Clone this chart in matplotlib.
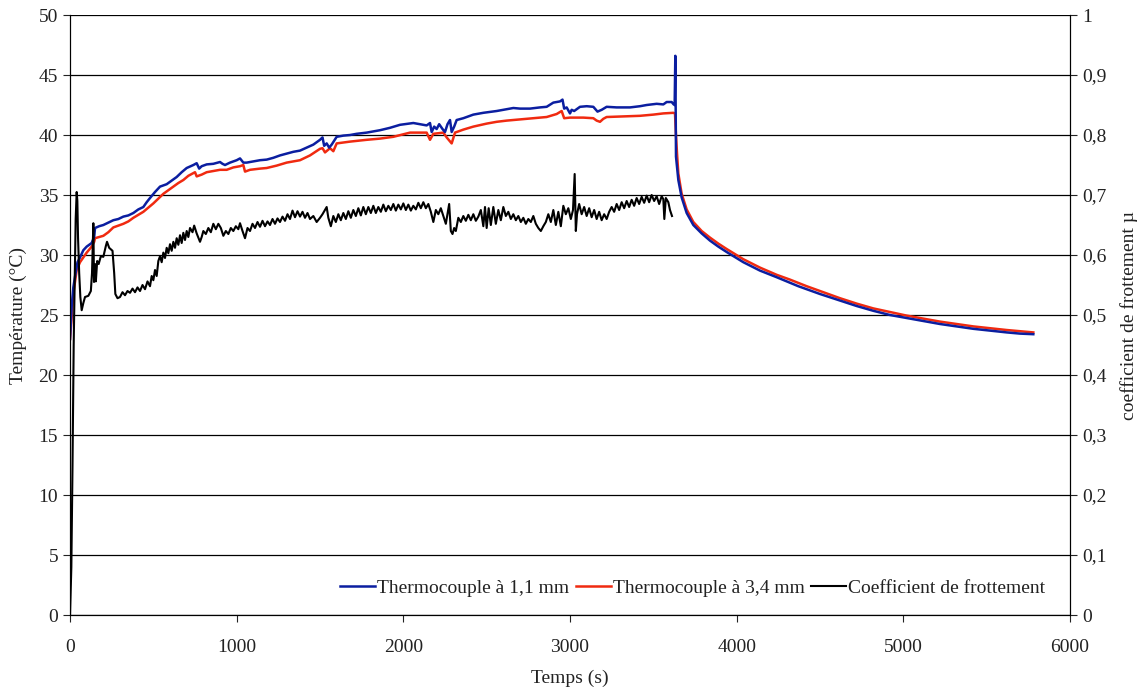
import matplotlib
matplotlib.use("Agg")
import matplotlib.pyplot as plt
from matplotlib.ticker import FuncFormatter, MultipleLocator

# --- data ------------------------------------------------------------------
time_tc1 = [0, 10, 20, 30, 45, 60, 80, 100, 130, 145, 150, 175, 200, 230, 260, 290, 320, 350, 380, 410,
            440, 460, 480, 510, 540, 580, 610, 640, 670, 700, 740, 760, 775, 790, 820, 860, 900, 915, 930,
            960, 1000, 1020, 1040, 1060, 1100, 1140, 1180, 1220, 1260, 1300, 1340, 1380, 1420, 1460, 1500,
            1515, 1525, 1540, 1555, 1570, 1600, 1640, 1680, 1720, 1780, 1820, 1860, 1920, 1980, 2060, 2100,
            2140, 2160, 2170, 2185, 2200, 2215, 2235, 2250, 2265, 2280, 2290, 2305, 2320, 2360, 2420, 2480,
            2560, 2620, 2660, 2700, 2760, 2820, 2860, 2900, 2940, 2955, 2965, 2980, 3000, 3010, 3025, 3060,
            3100, 3140, 3165, 3190, 3220, 3280, 3360, 3420, 3460, 3520, 3560, 3580, 3610, 3622, 3628, 3632,
            3636, 3650, 3670, 3700, 3740, 3790, 3840, 3890, 3940, 4040, 4140, 4240, 4370, 4500, 4620, 4720,
            4820, 4920, 5020, 5120, 5220, 5320, 5420, 5520, 5620, 5700, 5780]
temp_tc1 = [23.0, 25.7, 27.3, 28.2, 29.4, 29.8, 30.4, 30.7, 31.0, 31.5, 32.25, 32.4, 32.5, 32.7, 32.9, 33.0,
            33.2, 33.3, 33.5, 33.8, 34.0, 34.4, 34.75, 35.25, 35.7, 35.9, 36.2, 36.5, 36.9, 37.25, 37.5,
            37.65, 37.2, 37.4, 37.55, 37.6, 37.75, 37.6, 37.5, 37.7, 37.9, 38.05, 37.7, 37.7, 37.8, 37.9,
            37.95, 38.1, 38.3, 38.45, 38.6, 38.7, 38.95, 39.2, 39.6, 39.8, 39.1, 39.3, 38.95, 39.2, 39.85,
            39.95, 40.0, 40.1, 40.2, 40.3, 40.4, 40.6, 40.85, 41.0, 40.9, 40.8, 41.0, 40.25, 40.7, 40.5,
            40.9, 40.5, 40.25, 40.9, 41.25, 40.25, 40.7, 41.25, 41.4, 41.7, 41.85, 42.0, 42.15, 42.25, 42.2,
            42.2, 42.3, 42.35, 42.7, 42.8, 42.95, 42.2, 42.3, 41.8, 42.1, 42.0, 42.35, 42.4, 42.35, 41.95,
            42.1, 42.35, 42.3, 42.3, 42.4, 42.5, 42.6, 42.55, 42.75, 42.75, 42.55, 42.5, 46.6, 38.2, 36.25,
            34.8, 33.5, 32.5, 31.8, 31.2, 30.7, 30.25, 29.4, 28.7, 28.15, 27.4, 26.75, 26.2, 25.75, 25.35,
            25.0, 24.75, 24.5, 24.25, 24.05, 23.85, 23.7, 23.55, 23.45, 23.4]

time_tc2 = [0, 10, 20, 40, 60, 80, 100, 130, 145, 150, 200, 230, 260, 290, 320, 350, 380, 410, 440, 470,
            500, 530, 560, 590, 620, 650, 680, 710, 750, 760, 790, 820, 860, 900, 940, 980, 1020, 1040,
            1050, 1080, 1140, 1180, 1240, 1300, 1380, 1440, 1500, 1515, 1530, 1560, 1580, 1600, 1680, 1780,
            1860, 1940, 2040, 2140, 2160, 2180, 2240, 2260, 2290, 2310, 2360, 2420, 2500, 2560, 2620, 2700,
            2780, 2860, 2920, 2950, 2965, 3000, 3080, 3140, 3160, 3180, 3200, 3220, 3320, 3420, 3500, 3560,
            3620, 3630, 3636, 3642, 3650, 3670, 3700, 3740, 3790, 3840, 3890, 3940, 4040, 4140, 4240, 4320,
            4420, 4520, 4620, 4720, 4820, 4920, 5020, 5120, 5220, 5320, 5420, 5520, 5620, 5700, 5780]
temp_tc2 = [23.0, 24.8, 26.8, 28.75, 29.4, 29.8, 30.2, 30.7, 31.1, 31.4, 31.6, 31.9, 32.3, 32.45, 32.6,
            32.8, 33.1, 33.35, 33.6, 33.95, 34.3, 34.7, 35.1, 35.4, 35.7, 36.0, 36.25, 36.6, 36.9, 36.55,
            36.7, 36.9, 37.0, 37.1, 37.1, 37.3, 37.4, 37.5, 36.95, 37.1, 37.2, 37.25, 37.45, 37.7, 37.9,
            38.3, 38.85, 38.9, 38.55, 38.9, 38.65, 39.3, 39.45, 39.6, 39.7, 39.85, 40.2, 40.2, 39.6, 40.1,
            40.2, 39.8, 39.3, 40.2, 40.45, 40.7, 40.95, 41.1, 41.2, 41.3, 41.4, 41.5, 41.75, 42.0, 41.4,
            41.45, 41.45, 41.4, 41.2, 41.1, 41.35, 41.5, 41.55, 41.6, 41.7, 41.8, 41.85, 41.8, 40.0, 38.5,
            36.8, 35.1, 33.8, 32.75, 32.0, 31.45, 30.95, 30.5, 29.65, 28.95, 28.35, 27.95, 27.4, 26.9,
            26.4, 25.95, 25.55, 25.25, 24.95, 24.7, 24.45, 24.25, 24.05, 23.9, 23.75, 23.65, 23.55]

time_mu = [0, 8, 15, 22, 28, 34, 40, 44, 48, 55, 62, 70, 80, 90, 110, 125, 132, 140, 144, 150, 155, 163,
           172, 185, 200, 215, 222, 235, 255, 265, 272, 285, 300, 315, 330, 345, 360, 375, 390, 405, 420,
           435, 450, 465, 480, 490, 500, 510, 520, 530, 540, 550, 560, 570, 580, 590, 600, 610, 620, 630,
           640, 650, 660, 670, 680, 690, 700, 710, 720, 735, 745, 760, 780, 790, 800, 815, 830, 845, 860,
           875, 890, 905, 920, 935, 950, 965, 980, 995, 1010, 1020, 1035, 1050, 1065, 1080, 1095, 1110,
           1125, 1140, 1155, 1170, 1185, 1200, 1215, 1230, 1245, 1260, 1275, 1290, 1305, 1320, 1335, 1350,
           1365, 1380, 1395, 1410, 1425, 1440, 1460, 1480, 1500, 1515, 1530, 1540, 1550, 1565, 1580, 1595,
           1610, 1625, 1640, 1655, 1670, 1685, 1700, 1715, 1730, 1745, 1760, 1775, 1790, 1805, 1820, 1835,
           1850, 1865, 1880, 1895, 1910, 1925, 1940, 1955, 1970, 1985, 2000, 2015, 2030, 2045, 2060, 2075,
           2090, 2105, 2120, 2135, 2150, 2165, 2180, 2195, 2210, 2225, 2240, 2255, 2265, 2275, 2285, 2295,
           2305, 2315, 2330, 2345, 2360, 2375, 2390, 2405, 2420, 2435, 2450, 2465, 2480, 2490, 2500, 2512,
           2525, 2540, 2555, 2570, 2585, 2600, 2615, 2630, 2645, 2660, 2675, 2690, 2705, 2720, 2735, 2750,
           2765, 2780, 2795, 2810, 2825, 2840, 2855, 2870, 2885, 2900, 2915, 2930, 2945, 2960, 2975, 2990,
           3005, 3018, 3028, 3035, 3042, 3055, 3070, 3085, 3100, 3115, 3130, 3145, 3160, 3175, 3190, 3205,
           3220, 3235, 3250, 3265, 3280, 3295, 3310, 3325, 3340, 3355, 3370, 3385, 3400, 3415, 3430, 3445,
           3460, 3475, 3490, 3505, 3520, 3535, 3550, 3560, 3566, 3575, 3590, 3600, 3612]
mu = [0.0, 0.08, 0.25, 0.45, 0.56, 0.66, 0.705, 0.69, 0.63, 0.57, 0.53, 0.508, 0.52, 0.53, 0.532, 0.54,
      0.57, 0.653, 0.555, 0.585, 0.556, 0.59, 0.585, 0.598, 0.597, 0.615, 0.622, 0.612, 0.607, 0.57, 0.535,
      0.528, 0.53, 0.538, 0.533, 0.54, 0.537, 0.544, 0.538, 0.546, 0.54, 0.55, 0.543, 0.556, 0.548, 0.565,
      0.558, 0.575, 0.565, 0.59, 0.598, 0.588, 0.604, 0.595, 0.612, 0.603, 0.618, 0.607, 0.622, 0.612,
      0.628, 0.617, 0.633, 0.62, 0.637, 0.625, 0.64, 0.63, 0.645, 0.638, 0.649, 0.636, 0.622, 0.63, 0.64,
      0.635, 0.645, 0.638, 0.652, 0.643, 0.652, 0.645, 0.632, 0.64, 0.635, 0.645, 0.64, 0.648, 0.643, 0.653,
      0.64, 0.628, 0.645, 0.64, 0.652, 0.645, 0.655, 0.647, 0.657, 0.648, 0.656, 0.65, 0.66, 0.652, 0.661,
      0.655, 0.664, 0.657, 0.668, 0.66, 0.674, 0.663, 0.673, 0.664, 0.672, 0.662, 0.67, 0.66, 0.665, 0.655,
      0.662, 0.668, 0.675, 0.68, 0.662, 0.648, 0.665, 0.655, 0.668, 0.658, 0.67, 0.66, 0.673, 0.662, 0.675,
      0.665, 0.678, 0.666, 0.68, 0.668, 0.68, 0.67, 0.682, 0.67, 0.68, 0.672, 0.684, 0.673, 0.682, 0.675,
      0.685, 0.674, 0.684, 0.676, 0.686, 0.675, 0.684, 0.674, 0.682, 0.676, 0.687, 0.678, 0.688, 0.678,
      0.685, 0.672, 0.655, 0.675, 0.668, 0.678, 0.665, 0.652, 0.668, 0.685, 0.64, 0.635, 0.645, 0.64, 0.662,
      0.655, 0.665, 0.657, 0.667, 0.658, 0.668, 0.657, 0.664, 0.675, 0.648, 0.68, 0.645, 0.678, 0.65, 0.68,
      0.652, 0.675, 0.658, 0.68, 0.665, 0.672, 0.66, 0.668, 0.658, 0.665, 0.655, 0.662, 0.652, 0.66, 0.655,
      0.665, 0.652, 0.645, 0.64, 0.648, 0.655, 0.668, 0.655, 0.675, 0.65, 0.672, 0.648, 0.682, 0.668, 0.678,
      0.66, 0.675, 0.735, 0.64, 0.668, 0.685, 0.668, 0.68, 0.665, 0.678, 0.663, 0.675, 0.66, 0.672, 0.658,
      0.668, 0.66, 0.672, 0.68, 0.672, 0.685, 0.675, 0.688, 0.678, 0.69, 0.68, 0.692, 0.682, 0.695, 0.685,
      0.697, 0.687, 0.699, 0.688, 0.7, 0.69, 0.698, 0.685, 0.698, 0.693, 0.66, 0.695, 0.688, 0.675, 0.665]

labels = ["Thermocouple à 1,1 mm", "Thermocouple à 3,4 mm", "Coefficient de frottement"]

# --- figure ----------------------------------------------------------------
plt.rcParams["font.family"] = ["Liberation Serif", "DejaVu Serif"]
plt.rcParams["font.size"] = 14
text_col = "#222222"

fig = plt.figure(figsize=(11.44, 6.95), dpi=100)
ax = fig.add_axes([0.0612, 0.1151, 0.8741, 0.8633])
ax2 = ax.twinx()

l1, = ax.plot(time_tc1, temp_tc1, color="#0b1ea0", lw=1.8, zorder=3)
l2, = ax.plot(time_tc2, temp_tc2, color="#f02a10", lw=1.8, zorder=2)
l3, = ax2.plot(time_mu, mu, color="black", lw=1.5)

ax.set_xlim(0, 6000)
ax.set_ylim(0, 50)
ax2.set_ylim(0, 1)
ax.xaxis.set_major_locator(MultipleLocator(1000))
ax.yaxis.set_major_locator(MultipleLocator(5))
ax2.yaxis.set_major_locator(MultipleLocator(0.1))
ax2.yaxis.set_major_formatter(
    FuncFormatter(lambda v, p: ("%g" % round(v, 1)).replace(".", ",")))

ax.grid(axis="y", color="black", lw=0.9)
ax.set_axisbelow(True)
ax.spines["top"].set_visible(False)
ax2.spines["top"].set_visible(False)
for a in (ax, ax2):
    a.tick_params(direction="out", length=5, width=0.8, colors=text_col, labelsize=14)
ax.tick_params(axis="x", pad=12)

ax.set_xlabel("Temps (s)", color=text_col, labelpad=10)
ax.set_ylabel("Température (°C)", color=text_col, labelpad=8)
ax2.set_ylabel("coefficient de frottement µ", color=text_col, labelpad=10)

ax2.legend([l1, l2, l3], labels, loc="center right",
           bbox_to_anchor=(0.993, 0.045), ncol=3, frameon=False,
           handlelength=1.8, handletextpad=0.1, columnspacing=0.35,
           fontsize=14, labelcolor=text_col)

fig.savefig("out.png", dpi=100)
